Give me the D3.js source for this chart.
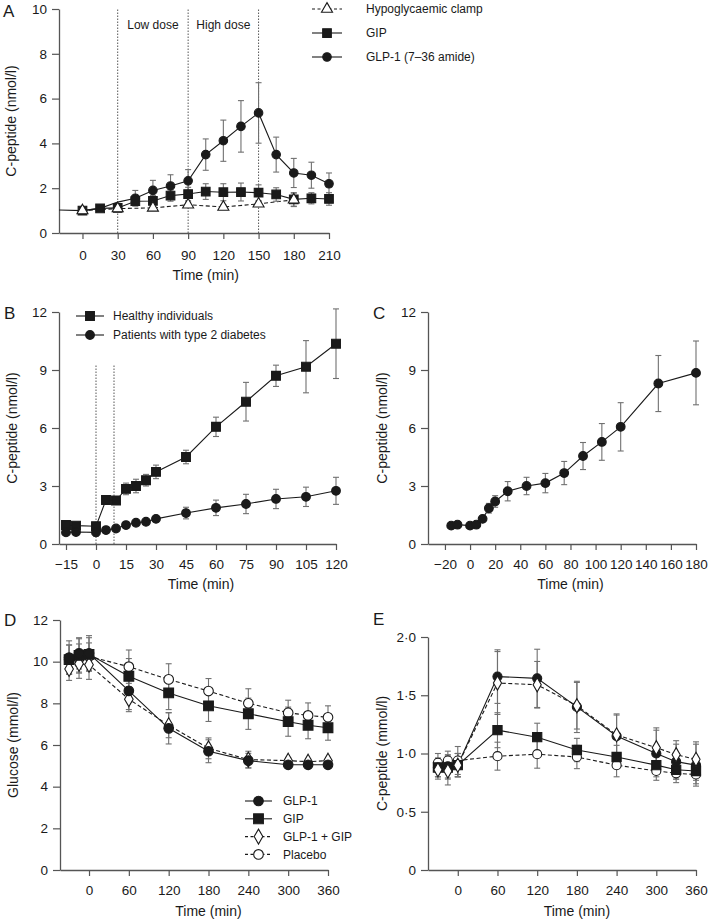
<!DOCTYPE html>
<html><head><meta charset="utf-8">
<script src="https://cdn.jsdelivr.net/npm/d3@7"></script>
<style>body{margin:0;background:#fff} text{font-family:"Liberation Sans",Arial,sans-serif;fill:#1a1a1a}</style>
</head><body><svg id="c" width="709" height="920"></svg>
<script>
// ---------- Panel A data ----------
const aTicksX = [0,30,60,90,120,150,180,210];
const aTicksY = [0,2,4,6,8,10];
const aClampT = [0,30,60,90,120,150,180];
const aClampV = [1.0,1.09,1.12,1.26,1.16,1.3,1.48];
const aClampE = [0.1,0.1,0.1,0.12,0.1,0.1,0.3];
const aGipT = [-20,0,15,30,45,60,75,90,105,120,135,150,165,180,195,210];
const aGipV = [1.03,1.0,1.1,1.12,1.42,1.43,1.67,1.74,1.85,1.82,1.83,1.8,1.72,1.5,1.55,1.52];
const aGipE = [0,0.05,0.05,0.1,0.2,0.25,0.25,0.3,0.35,0.38,0.4,0.35,0.3,0.3,0.25,0.28];
const aGlpT = [0,15,30,45,60,75,90,105,120,135,150,165,180,195,210];
const aGlpV = [1.0,1.1,1.38,1.55,1.9,2.1,2.33,3.5,4.12,4.76,5.36,3.5,2.68,2.58,2.2];
const aGlpE = [0,0,0,0.35,0.45,0.5,0.5,0.7,0.92,1.15,1.35,0.78,0.65,0.58,0.48];
const aDoseLines = [30,90,150];
const aDoseLabels = [{t:60,label:"Low dose"},{t:120,label:"High dose"}];

// ---------- Panel B data ----------
const bTicksX = [-15,0,15,30,45,60,75,90,105,120];
const bTicksY = [0,3,6,9,12];
const bHealthyT = [-15,-10,0,5,10,15,20,25,30,45,60,75,90,105,120];
const bHealthyV = [0.98,0.95,0.92,2.28,2.25,2.85,3.0,3.3,3.73,4.5,6.06,7.36,8.7,9.17,10.36];
const bHealthyE = [0.1,0.1,0.1,0.15,0.2,0.3,0.35,0.3,0.35,0.35,0.5,1.0,0.55,1.35,1.8];
const bT2dT = [-15,-10,0,5,10,15,20,25,30,45,60,75,90,105,120];
const bT2dV = [0.6,0.62,0.6,0.72,0.8,0.98,1.1,1.15,1.3,1.6,1.87,2.07,2.33,2.44,2.75];
const bT2dE = [0.15,0.15,0.2,0.1,0.1,0.1,0.1,0.1,0.15,0.3,0.4,0.5,0.5,0.5,0.7];
const bInfusion = [0,9];
const bInfusionTop = 9.3;

// ---------- Panel C data ----------
const cTicksX = [-20,0,20,40,60,80,100,120,140,160,180];
const cTicksY = [0,3,6,9,12];
const cT = [-15,-10,0,5,10,15,20,30,45,60,75,90,105,120,150,180];
const cV = [0.95,1.0,0.95,1.0,1.3,1.85,2.2,2.73,3.0,3.15,3.67,4.55,5.28,6.06,8.3,8.85];
const cE = [0,0,0,0.05,0.1,0.25,0.3,0.5,0.45,0.5,0.6,0.7,0.95,1.25,1.45,1.65];

// ---------- Panel D data ----------
const dTicksX = [0,60,120,180,240,300,360];
const dTicksY = [0,2,4,6,8,10,12];
const dT = [-30,-15,0,60,120,180,240,300,330,360];
const dGlpV = [10.2,10.4,10.4,8.6,6.8,5.7,5.25,5.05,5.05,5.05];
const dGlpE = [0.8,0.75,0.85,0.9,0.75,0.55,0.35,0.1,0.1,0.1];
const dGipV = [10.1,10.3,10.35,9.3,8.5,7.88,7.5,7.12,6.95,6.83];
const dGipE = [0.7,0.8,0.8,0.85,0.8,0.75,0.75,0.7,0.65,0.6];
const dComboV = [9.65,9.9,9.85,8.2,6.95,5.84,5.3,5.25,5.2,5.25];
const dComboE = [0.55,0.7,0.7,0.6,0.6,0.5,0.4,0.15,0.15,0.15];
const dPlaceboV = [10.1,10.15,10.25,9.76,9.15,8.59,8.0,7.55,7.42,7.33];
const dPlaceboE = [0.7,0.7,0.65,0.8,0.75,0.6,0.7,0.6,0.6,0.55];

// ---------- Panel E data ----------
const eTicksX = [0,60,120,180,240,300,360];
const eTicksY = [0,0.5,1.0,1.5,2.0];
const eT = [-30,-15,0,60,120,180,240,300,330,360];
const eGlpV = [0.88,0.89,0.9,1.66,1.645,1.4,1.15,1.0,0.93,0.9];
const eGlpE = [0.08,0.1,0.1,0.23,0.25,0.22,0.18,0.2,0.15,0.18];
const eGipV = [0.88,0.88,0.9,1.2,1.14,1.03,0.97,0.9,0.86,0.85];
const eGipE = [0.08,0.1,0.1,0.15,0.12,0.1,0.1,0.08,0.08,0.08];
const eComboV = [0.86,0.85,0.9,1.605,1.59,1.41,1.16,1.05,0.99,0.95];
const eComboE = [0.08,0.12,0.1,0.27,0.2,0.2,0.18,0.17,0.12,0.15];
const ePlaceboV = [0.92,0.94,0.94,0.977,0.994,0.97,0.9,0.85,0.83,0.82];
const ePlaceboE = [0.08,0.08,0.12,0.12,0.12,0.1,0.1,0.08,0.08,0.08];

const svg = d3.select("#c");
const AX = "#555", LN = "#1a1a1a", EB = "#707070";
const minusFmt = d => d < 0 ? "\u2212" + Math.abs(d) : String(d);
const dotFmt = d => d === 0 ? "0" : d3.format(".1f")(d).replace(".", "\u00b7");

function drawMarker(g, type, cx, cy, filled, k){
  k = k || 1;
  const fill = filled ? LN : "#fff";
  let sym;
  if (type === "circle") sym = d3.symbol(d3.symbolCircle, 52 * k);
  else if (type === "square") sym = d3.symbol(d3.symbolSquare, 68 * k);
  else if (type === "triangle") sym = d3.symbol(d3.symbolTriangle, 48 * k);
  else sym = d3.symbol(d3.symbolDiamond, 46 * k);
  g.append("path").attr("d", sym()).attr("transform", `translate(${cx},${cy})`)
    .attr("fill", fill).attr("stroke", LN).attr("stroke-width", 1.1);
}

function panel(cfg){
  const g = svg.append("g");
  const k = cfg.markScale || 1;
  const x = d3.scaleLinear().domain(cfg.xDomain).range(cfg.xRange);
  const y = d3.scaleLinear().domain(cfg.yDomain).range(cfg.yRange);
  const xa = g.append("g").attr("transform", `translate(0,${cfg.yRange[0]})`)
    .call(d3.axisBottom(x).tickValues(cfg.xTicks).tickSize(6).tickSizeOuter(0).tickPadding(cfg.xPad).tickFormat(minusFmt));
  const ya = g.append("g").attr("transform", `translate(${cfg.xRange[0]},0)`)
    .call(d3.axisLeft(y).tickValues(cfg.yTicks).tickSize(7).tickSizeOuter(0).tickPadding(5).tickFormat(cfg.yFmt || minusFmt));
  [xa, ya].forEach(a => {
    a.select(".domain").attr("stroke", AX).attr("stroke-width", 1.3);
    a.selectAll(".tick line").attr("stroke", AX).attr("stroke-width", 1.2);
    a.selectAll(".tick text").attr("font-size", 13.5).attr("fill", "#1a1a1a")
      .attr("font-family", '"Liberation Sans",Arial,sans-serif');
  });
  const xm = (x(cfg.xTicks[0]) + x(cfg.xTicks[cfg.xTicks.length-1])) / 2;
  g.append("text").attr("x", xm).attr("y", cfg.xTitleY).attr("text-anchor", "middle")
    .attr("font-size", 14).text("Time (min)");
  const ym = (cfg.yRange[0] + cfg.yRange[1]) / 2;
  g.append("text").attr("transform", `translate(${cfg.yTitleX},${ym}) rotate(-90)`)
    .attr("text-anchor", "middle").attr("font-size", 14).text(cfg.yTitle);
  g.append("text").attr("x", cfg.letter[1]).attr("y", cfg.letter[2]).attr("font-size", 17).text(cfg.letter[0]);
  if (cfg.extra) cfg.extra(g, x, y);
  const line = d3.line().x(d => x(d.t)).y(d => y(d.v));
  cfg.series.forEach(s => {
    const pts = s.t.map((t, i) => ({t, v: s.v[i], e: s.e[i]}));
    g.append("path").datum(pts).attr("d", line).attr("fill", "none").attr("stroke", LN)
      .attr("stroke-width", 1.1).attr("stroke-dasharray", s.dash ? "4,2.5" : null);
  });
  cfg.series.forEach(s => {
    s.t.forEach((t, i) => {
      if (s.e[i] > 0) {
        const cx = x(t), y1 = y(s.v[i] - s.e[i]), y2 = y(s.v[i] + s.e[i]);
        g.append("line").attr("x1", cx).attr("x2", cx).attr("y1", y1).attr("y2", y2).attr("stroke", EB).attr("stroke-width", 1.1);
        [y1, y2].forEach(yy => g.append("line").attr("x1", cx-3).attr("x2", cx+3).attr("y1", yy).attr("y2", yy).attr("stroke", EB).attr("stroke-width", 1.1));
      }
    });
  });
  cfg.series.forEach(s => {
    s.t.forEach((t, i) => {
      if (s.markFrom !== undefined && t < s.markFrom) return;
      drawMarker(g, s.marker, x(t), y(s.v[i]), s.filled, k);
    });
  });
  if (cfg.legend) {
    const L = cfg.legend;
    L.items.forEach((s, i) => {
      const yy = L.y + i * L.dy;
      g.append("line").attr("x1", L.x1).attr("x2", L.x2).attr("y1", yy).attr("y2", yy)
        .attr("stroke", LN).attr("stroke-width", 1.1).attr("stroke-dasharray", s.dash ? "3,2.5" : null);
      drawMarker(g, s.marker, (L.x1 + L.x2) / 2, yy, s.filled, k);
      g.append("text").attr("x", L.tx).attr("y", yy + 4.3).attr("font-size", 12).text(s.name);
    });
  }
}

// Panel A
const aSeries = [
  {name:"Hypoglycaemic clamp", t:aClampT, v:aClampV, e:aClampE, marker:"triangle", filled:false, dash:true},
  {name:"GIP", t:aGipT, v:aGipV, e:aGipE, marker:"square", filled:true, markFrom:0},
  {name:"GLP-1 (7\u201336 amide)", t:aGlpT, v:aGlpV, e:aGlpE, marker:"circle", filled:true, markFrom:45}
];
panel({
  xDomain:[-20,210], xRange:[59,329], yDomain:[0,10], yRange:[233,9],
  xTicks:aTicksX, yTicks:aTicksY, xPad:11, xTitleY:280, yTitleX:16,
  yTitle:"C-peptide (nmol/l)", letter:["A",3,17], markScale:1.1,
  extra:(g,x,y)=>{
    aDoseLines.forEach(t => g.append("line").attr("x1",x(t)).attr("x2",x(t)).attr("y1",y(0)).attr("y2",y(10))
      .attr("stroke","#444").attr("stroke-width",0.9).attr("stroke-dasharray","1.5,1.5"));
    aDoseLabels.forEach(d => g.append("text").attr("x",x(d.t)).attr("y",29).attr("text-anchor","middle").attr("font-size",12).text(d.label));
  },
  series:[aSeries[2], aSeries[1], aSeries[0]],
  legend:{x1:312, x2:342, tx:366, y:9, dy:24, items:aSeries}
});

// Panel B
const bSeries = [
  {name:"Healthy individuals", t:bHealthyT, v:bHealthyV, e:bHealthyE, marker:"square", filled:true},
  {name:"Patients with type 2 diabetes", t:bT2dT, v:bT2dV, e:bT2dE, marker:"circle", filled:true}
];
panel({
  xDomain:[-18.5,120], xRange:[59,336], yDomain:[0,12], yRange:[544,312],
  xTicks:bTicksX, yTicks:bTicksY, xPad:9, xTitleY:589, yTitleX:17,
  yTitle:"C-peptide (nmol/l)", letter:["B",4,319], markScale:1.15,
  extra:(g,x,y)=>{
    bInfusion.forEach(t => g.append("line").attr("x1",x(t)).attr("x2",x(t)).attr("y1",y(0)).attr("y2",y(bInfusionTop))
      .attr("stroke","#444").attr("stroke-width",0.9).attr("stroke-dasharray","1.5,1.5"));
  },
  series:bSeries,
  legend:{x1:76, x2:104, tx:113, y:316, dy:19, items:bSeries}
});

// Panel C
panel({
  xDomain:[-33.5,180], xRange:[428,696], yDomain:[0,12], yRange:[544,312],
  xTicks:cTicksX, yTicks:cTicksY, xPad:9, xTitleY:589, yTitleX:387,
  yTitle:"C-peptide (nmol/l)", letter:["C",373,319], markScale:1.15,
  series:[{t:cT, v:cV, e:cE, marker:"circle", filled:true}]
});

// Panel D
const dSeries = [
  {name:"GLP-1", t:dT, v:dGlpV, e:dGlpE, marker:"circle", filled:true},
  {name:"GIP", t:dT, v:dGipV, e:dGipE, marker:"square", filled:true},
  {name:"GLP-1 + GIP", t:dT, v:dComboV, e:dComboE, marker:"diamond", filled:false, dash:true},
  {name:"Placebo", t:dT, v:dPlaceboV, e:dPlaceboE, marker:"circle", filled:false, dash:true}
];
panel({
  xDomain:[-43.7,360], xRange:[60,328], yDomain:[0,12], yRange:[870,620],
  xTicks:dTicksX, yTicks:dTicksY, xPad:9, xTitleY:916, yTitleX:18,
  yTitle:"Glucose (mmol/l)", letter:["D",4,626], markScale:1.4,
  series:[dSeries[3], dSeries[2], dSeries[1], dSeries[0]],
  legend:{x1:245, x2:272, tx:283, y:801, dy:17.8, items:dSeries}
});

// Panel E
panel({
  xDomain:[-45,360], xRange:[428,696], yDomain:[0,2], yRange:[870,637],
  xTicks:eTicksX, yTicks:eTicksY, xPad:9, xTitleY:916, yTitleX:387,
  yTitle:"C-peptide (mmol/l)", letter:["E",373,625], yFmt:dotFmt, markScale:1.25,
  series:[
    {t:eT, v:ePlaceboV, e:ePlaceboE, marker:"circle", filled:false, dash:true},
    {t:eT, v:eGipV, e:eGipE, marker:"square", filled:true},
    {t:eT, v:eGlpV, e:eGlpE, marker:"circle", filled:true},
    {t:eT, v:eComboV, e:eComboE, marker:"diamond", filled:false, dash:true}
  ]
});
</script></body></html>
